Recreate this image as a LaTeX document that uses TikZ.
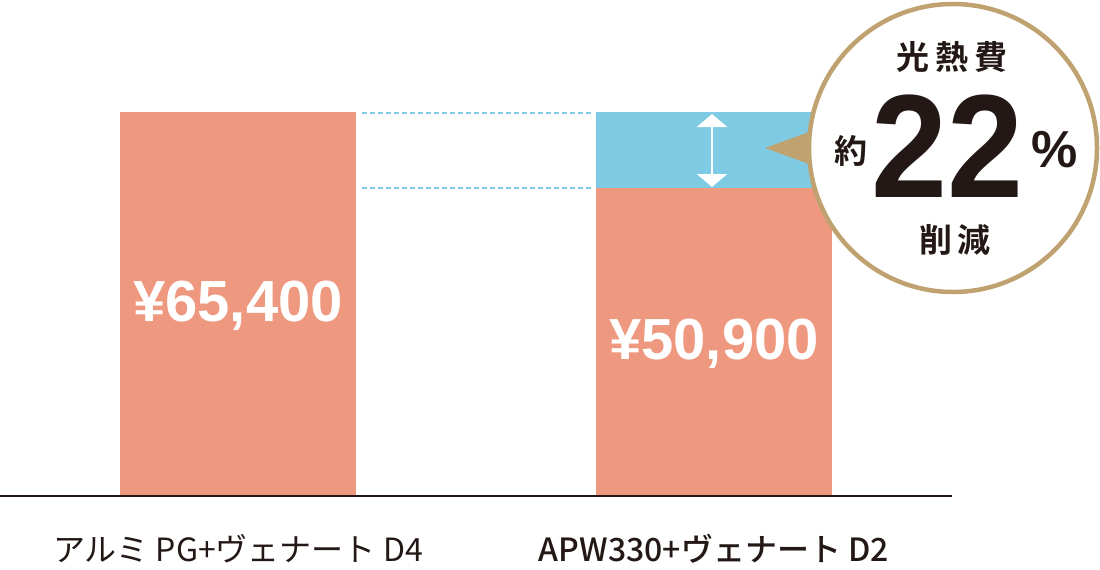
\documentclass[tikz,border=0pt]{standalone}
\usepackage{fontspec}
\setmainfont{Liberation Sans}
\newfontfamily\jp{Noto Sans CJK JP}
\newfontfamily\jpm{Noto Sans CJK JP Medium}
\newfontfamily\jpb{Noto Sans CJK JP Bold}
\usetikzlibrary{arrows.meta}
\definecolor{salmon}{HTML}{EF9880}
\definecolor{sky}{HTML}{7FCBE3}
\definecolor{gold}{HTML}{BFA26F}
\definecolor{ink}{HTML}{231815}
\tikzset{
  bar/.style={fill=salmon,draw=none},
  guide/.style={draw=sky,dash pattern=on 5pt off 3pt,line width=1.2pt},
  val/.style={text=white,font=\fontsize{58}{58}\selectfont\bfseries},
}
\begin{document}
\begin{tikzpicture}[x=1pt,y=-1pt]
\useasboundingbox (0,0) rectangle (1100,570);
\path[bar] (120,112) rectangle (356,496);
\path[bar] (596,188) rectangle (832,496);
\path[fill=sky] (596,112) rectangle (832,188);
\coordinate (d1a) at (362,113); \coordinate (d1b) at (592,113);
\coordinate (d2a) at (362,188); \coordinate (d2b) at (592,188);
\draw[guide] (d1a) -- (d1b);
\draw[guide] (d2a) -- (d2b);
\draw[ink,line width=1.2pt] (0,496) -- (952,496);
\coordinate (ua) at (712,114); \coordinate (ub) at (712,187);
\draw[white,line width=2.5pt,{Triangle[width=30pt,length=13pt]}-{Triangle[width=30pt,length=13pt]}] (ua) -- (ub);
\node[val] (v1) at (238,306) {¥65,400};
\node[val] (v2) at (714,344) {¥50,900};
\node[text=ink,font=\jp\fontsize{32}{32}\selectfont] (l1) at (238,549) {アルミ PG+ヴェナート D4};
\node[text=ink,font=\jpm\fontsize{32}{32}\selectfont] (l2) at (714,549) {APW330+ヴェナート D2};
% bubble
\fill[gold] (765,148) -- (820,128) -- (820,168) -- cycle;
\draw[gold,fill=white,line width=4.5pt] (953,148) circle (144);
\node[text=ink,font=\jpb\fontsize{33}{33}\selectfont] (t1) at (952,57) {光\hspace{6pt}熱\hspace{6pt}費};
\node[text=ink,font=\jpb\fontsize{33}{33}\selectfont] (t2) at (851,151) {約};
\node[text=ink,inner sep=0pt,font=\bfseries\fontsize{147}{147}\selectfont,xscale=0.93] (t3) at (948,146) {22};
\node[text=ink,font=\bfseries\fontsize{52}{52}\selectfont] (t4) at (1055,150) {\%};
\node[text=ink,inner sep=1pt,font=\jpb\fontsize{33}{33}\selectfont] (t5) at (955,240) {削\hspace{6pt}減};
\end{tikzpicture}
\end{document}
